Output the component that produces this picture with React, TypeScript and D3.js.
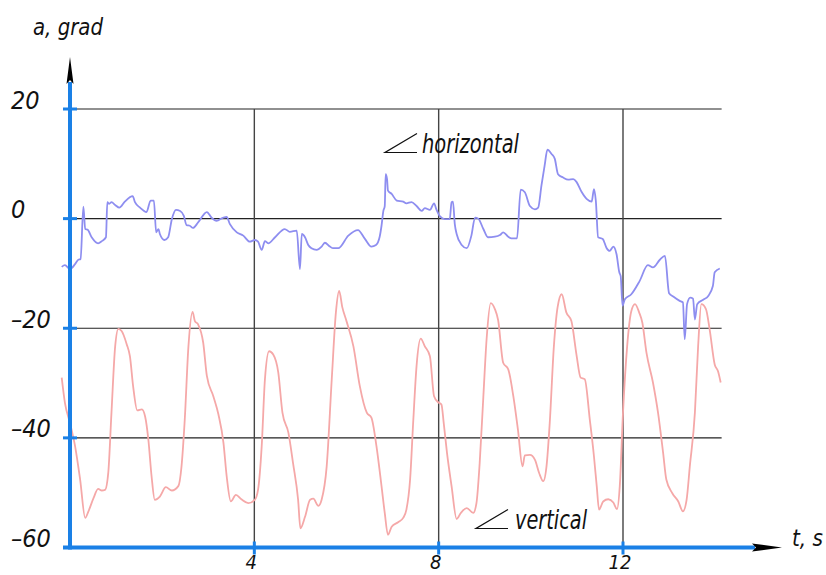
import React from 'react';
import * as d3 from 'd3';

// time (s), angle (grad)
const horizontalAngle: [number, number][] = [
  [-0.18, -8.8], [-0.11, -8.5], [0, -9.2], [0.11, -8.3], [0.18, -7.5], [0.23, -7.4], [0.29, 2.2],
  [0.33, -1.9], [0.38, -2.0], [0.47, -3.4], [0.61, -4.5], [0.69, -4.1], [0.78, -3.4], [0.81, 3.0],
  [0.85, 2.7], [0.9, 3.0], [0.98, 2.5], [1.07, 2.0], [1.19, 3.1], [1.36, 4.1], [1.41, 3.0],
  [1.52, 2.0], [1.66, 1.2], [1.75, 3.3], [1.82, 3.3], [1.87, -2.5], [1.92, -1.9], [1.95, -2.8],
  [2.05, -3.9], [2.13, -3.4], [2.21, -0.1], [2.3, 1.6], [2.39, 1.4], [2.47, 0.5], [2.53, -1.2],
  [2.6, -1.3], [2.67, -1.7], [2.78, -0.7], [2.97, 1.2], [3.07, 0.2], [3.18, -0.4], [3.33, 0.2],
  [3.4, 0.3], [3.47, -1.0], [3.62, -2.5], [3.76, -3.1], [3.9, -4.2], [4.01, -3.9], [4.08, -4.2],
  [4.16, -5.7], [4.23, -4.1], [4.3, -4.5], [4.45, -3.4], [4.66, -1.9], [4.77, -2.4], [4.92, -2.2],
  [4.99, -9.2], [5.03, -2.8], [5.1, -3.4], [5.17, -4.8], [5.24, -5.4], [5.35, -5.7], [5.46, -5.1],
  [5.53, -4.4], [5.64, -5.1], [5.71, -5.4], [5.82, -5.4], [6.04, -3.1], [6.25, -2.1], [6.4, -3.7],
  [6.54, -5.1], [6.64, -4.8], [6.72, -3.3], [6.76, -1.3], [6.8, 1.4], [6.83, 2.3], [6.85, 8.1],
  [6.88, 7.2], [6.9, 5.1], [6.98, 4.5], [7.09, 3.3], [7.23, 3.1], [7.3, 2.8], [7.41, 3.0],
  [7.52, 2.3], [7.63, 1.4], [7.7, 1.9], [7.81, 1.6], [7.9, 2.8], [7.95, 1.7], [8.03, 0.4],
  [8.13, -0.1], [8.24, -0.1], [8.28, 3.0], [8.31, 3.1], [8.35, -1.0], [8.39, -2.8], [8.5, -4.8],
  [8.61, -5.4], [8.71, -3.1], [8.79, 0.2], [8.86, 0.0], [8.97, -1.9], [9.07, -3.4], [9.22, -3.3],
  [9.33, -3.0], [9.4, -2.5], [9.51, -3.3], [9.58, -3.6], [9.7, -3.6], [9.78, 5.3], [9.87, 4.8],
  [9.98, 2.3], [10.09, 1.7], [10.16, 2.0], [10.23, 6.0], [10.3, 9.7], [10.36, 12.6], [10.45, 11.8],
  [10.52, 10.9], [10.59, 8.1], [10.7, 7.5], [10.81, 7.1], [10.92, 7.2], [10.99, 6.7], [11.1, 4.9],
  [11.21, 3.6], [11.32, 3.1], [11.37, 5.4], [11.41, 3.3], [11.46, -3.4], [11.56, -3.7], [11.64, -5.3],
  [11.71, -5.9], [11.79, -5.1], [11.86, -6.5], [11.92, -9.8], [11.95, -10.5], [11.99, -15.9],
  [12.04, -14.7], [12.18, -13.8], [12.36, -11.4], [12.54, -8.5], [12.65, -8.9], [12.8, -7.5],
  [12.91, -6.8], [13.0, -13.6], [13.09, -14.2], [13.23, -15.0], [13.3, -15.3], [13.34, -22.0],
  [13.39, -15.6], [13.46, -14.4], [13.52, -14.6], [13.56, -18.4], [13.61, -15.6], [13.74, -14.8],
  [13.85, -14.1], [13.95, -12.3], [13.99, -9.8], [14.1, -9.1],
];

const verticalAngle: [number, number][] = [
  [-0.18, -29.0], [-0.11, -33.6], [0, -37.3], [0.11, -41.5], [0.22, -47.6], [0.33, -54.6],
  [0.4, -53.4], [0.51, -51.0], [0.61, -49.3], [0.69, -49.6], [0.76, -49.5], [0.83, -46.4],
  [0.9, -35.4], [0.98, -23.3], [1.05, -20.1], [1.12, -20.5], [1.23, -22.9], [1.3, -25.1],
  [1.37, -30.6], [1.46, -35.0], [1.56, -34.8], [1.63, -36.1], [1.7, -40.3], [1.77, -47.0],
  [1.84, -51.3], [1.95, -50.7], [2.08, -49.0], [2.21, -49.6], [2.35, -48.8], [2.42, -45.2],
  [2.49, -36.7], [2.57, -23.3], [2.66, -17.0], [2.71, -18.7], [2.78, -19.3], [2.89, -22.6],
  [2.97, -28.7], [3.11, -32.4], [3.22, -35.7], [3.33, -40.9], [3.4, -47.0], [3.49, -51.6],
  [3.6, -50.4], [3.72, -51.2], [3.87, -51.9], [4.01, -51.3], [4.08, -49.5], [4.16, -41.5],
  [4.23, -29.3], [4.32, -24.2], [4.41, -24.8], [4.52, -28.1], [4.61, -35.4], [4.74, -39.1],
  [4.84, -44.6], [4.95, -51.3], [5.0, -56.5], [5.1, -54.4], [5.21, -51.3], [5.28, -51.1],
  [5.39, -52.4], [5.46, -51.3], [5.57, -45.2], [5.68, -29.3], [5.77, -17.1], [5.84, -13.2],
  [5.91, -16.2], [6.0, -18.7], [6.15, -23.3], [6.29, -30.6], [6.44, -35.4], [6.54, -36.3],
  [6.65, -41.5], [6.76, -48.8], [6.83, -53.7], [6.9, -57.7], [6.98, -56.2], [7.12, -55.4],
  [7.23, -54.6], [7.3, -53.1], [7.38, -47.6], [7.45, -36.7], [7.52, -26.9], [7.61, -21.9],
  [7.7, -23.3], [7.81, -25.1], [7.9, -32.4], [7.99, -33.5], [8.06, -33.9], [8.11, -37.3],
  [8.18, -42.7], [8.28, -48.8], [8.39, -54.8], [8.48, -53.7], [8.61, -52.8], [8.75, -53.7],
  [8.82, -51.9], [8.89, -44.6], [8.97, -32.4], [9.04, -22.0], [9.13, -15.4], [9.22, -16.5],
  [9.29, -18.5], [9.4, -26.3], [9.51, -27.5], [9.62, -32.4], [9.72, -38.5], [9.82, -45.2],
  [9.87, -43.2], [9.98, -43.1], [10.09, -44.0], [10.18, -46.4], [10.27, -47.9], [10.34, -45.2],
  [10.41, -37.3], [10.5, -23.3], [10.58, -16.2], [10.67, -13.8], [10.77, -17.1], [10.88, -18.7],
  [10.99, -24.8], [11.08, -29.0], [11.17, -29.3], [11.28, -36.7], [11.37, -43.4], [11.43, -48.8],
  [11.48, -53.1], [11.57, -51.6], [11.68, -51.2], [11.79, -51.8], [11.87, -53.0], [11.93, -48.8],
  [12.0, -35.4], [12.09, -23.3], [12.18, -16.9], [12.26, -15.6], [12.35, -17.1], [12.42, -19.0],
  [12.51, -24.5], [12.65, -29.9], [12.76, -35.4], [12.87, -42.7], [12.94, -47.6], [13.07, -50.1],
  [13.2, -51.6], [13.3, -53.4], [13.38, -51.3], [13.45, -45.2], [13.56, -35.4], [13.63, -23.3],
  [13.7, -15.6], [13.8, -16.5], [13.88, -20.2], [13.99, -26.6], [14.06, -27.8], [14.12, -29.9],
];

const yTicks = [20, 0, -20, -40, -60];
const xTicks = [4, 8, 12];
const yTickLabels = ['20', '0', '\u201320', '\u201340', '\u201360'];
const xTickLabels = ['4', '8', '12'];

const W = 826;
const H = 575;
const FONT = "'Liberation Sans Narrow', 'DejaVu Sans Condensed', sans-serif";
const AXIS = '#1a80e6';

export default function App() {
  const x = d3.scaleLinear().domain([0, 12]).range([70, 623]);
  const y = d3.scaleLinear().domain([-60, 20]).range([547.5, 109]);
  const gridRight = x(14.14);

  // monotone keeps the sharp spikes without overshoot
  const line = d3.line<[number, number]>()
    .x(d => x(d[0]))
    .y(d => y(d[1]))
    .curve(d3.curveMonotoneX);

  return (
    <svg width={W} height={H} style={{ position: 'absolute', left: 0, top: 0, background: '#fff' }}
      fontFamily={FONT} fontStyle="italic">
      {/* grid */}
      {yTicks.slice(0, 4).map(v => (
        <line key={'h' + v} x1={x(0)} x2={gridRight} y1={y(v)} y2={y(v)} stroke="#222" strokeWidth={1.2} />
      ))}
      {xTicks.map(v => (
        <line key={'v' + v} x1={x(v)} x2={x(v)} y1={y(20)} y2={y(-60)} stroke="#444" strokeWidth={1.4} />
      ))}

      {/* series */}
      <path d={line(verticalAngle) || ''} fill="none" stroke="#f5a8a8" strokeWidth={1.8} strokeLinejoin="round" />
      <path d={line(horizontalAngle) || ''} fill="none" stroke="#8e8ef0" strokeWidth={1.8} strokeLinejoin="round" />

      {/* axes */}
      <line x1={x(0)} x2={x(0)} y1={y(-60) + 2} y2={82} stroke={AXIS} strokeWidth={4} />
      <path d={`M${x(0)},57 L${x(0) + 3.5},84 L${x(0)},80 L${x(0) - 3.5},84 Z`} fill="#000" />
      <line x1={x(0) - 7} x2={755} y1={y(-60)} y2={y(-60)} stroke={AXIS} strokeWidth={4} />
      <path d={`M782,${y(-60)} L752,${y(-60) - 4} L756,${y(-60)} L752,${y(-60) + 4} Z`} fill="#000" />
      {yTicks.map(v => (
        <line key={'yt' + v} x1={x(0) - 7} x2={x(0) + 7} y1={y(v)} y2={y(v)} stroke={AXIS} strokeWidth={3} />
      ))}
      {xTicks.map(v => (
        <line key={'xt' + v} x1={x(v)} x2={x(v)} y1={y(-60) - 6} y2={y(-60) + 7} stroke={AXIS} strokeWidth={3} />
      ))}

      {/* tick labels */}
      {yTicks.map((v, i) => (
        <text key={'yl' + v} x={11} y={y(v) - 0.5} fontSize={25} fill="#111">{yTickLabels[i]}</text>
      ))}
      {xTicks.map((v, i) => (
        <text key={'xl' + v} x={x(v) - 3} y={569} fontSize={20} fill="#111" textAnchor="middle">{xTickLabels[i]}</text>
      ))}

      {/* axis titles */}
      <text x={33} y={35} fontSize={23} fill="#111" textLength={70} lengthAdjust="spacingAndGlyphs">a, grad</text>
      <text x={792} y={546} fontSize={23} fill="#111" textLength={31} lengthAdjust="spacingAndGlyphs">t, s</text>

      {/* series labels */}
      <path d="M417,133.5 L385,152.5 L417,152.5" fill="none" stroke="#111" strokeWidth={1.2} />
      <text x={422} y={153} fontSize={27} fill="#111" textLength={97} lengthAdjust="spacingAndGlyphs">horizontal</text>
      <path d="M508,509.5 L476,528.5 L508,528.5" fill="none" stroke="#111" strokeWidth={1.2} />
      <text x={515} y={529} fontSize={27} fill="#111" textLength={72} lengthAdjust="spacingAndGlyphs">vertical</text>
    </svg>
  );
}
